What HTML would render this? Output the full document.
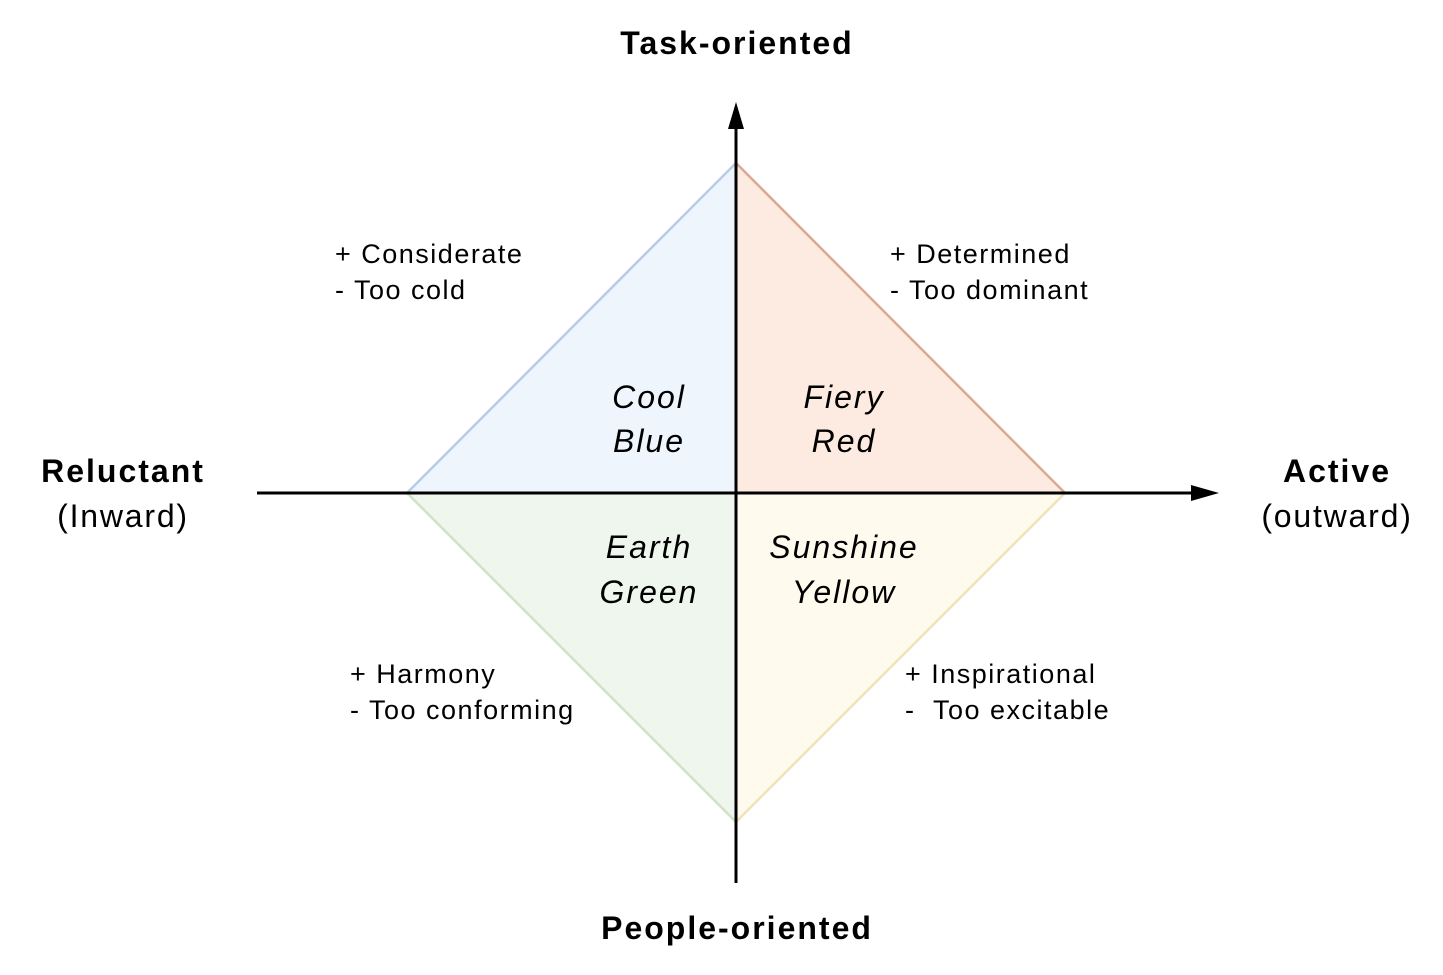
<!DOCTYPE html>
<html><head><meta charset="utf-8"><style>
body{margin:0;background:#fff}
svg{display:block;font-family:"Liberation Sans",Arial,sans-serif}
</style></head><body>
<svg width="1443" height="975" viewBox="0 0 1443 975">
<polygon points="736,163 736,493 407,493" fill="#eff5fd" stroke="#b8cbe8" stroke-width="2.5"/>
<polygon points="736,163 1065,493 736,493" fill="#fdebe1" stroke="#dba993" stroke-width="2.5"/>
<polygon points="407,493 736,493 736,822" fill="#eff6ee" stroke="#cfe3c3" stroke-width="2.5"/>
<polygon points="736,493 1065,493 736,822" fill="#fefaed" stroke="#eee4b8" stroke-width="2.5"/>
<line x1="257" y1="493" x2="1195" y2="493" stroke="#000" stroke-width="3"/>
<polygon points="1191,485 1219,493 1191,501" fill="#000"/>
<line x1="736" y1="883" x2="736" y2="125" stroke="#000" stroke-width="3"/>
<polygon points="728,129 736,102 744,129" fill="#000"/>
<g font-weight="bold" font-size="32" text-anchor="middle" letter-spacing="2">
<text x="737" y="54">Task-oriented</text>
<text x="737" y="939">People-oriented</text>
<text x="123" y="482">Reluctant</text>
<text x="1337" y="482">Active</text>
</g>
<g font-size="32" text-anchor="middle" letter-spacing="1.8">
<text x="123" y="527">(Inward)</text>
<text x="1337" y="527">(outward)</text>
</g>
<g font-size="32" font-style="italic" text-anchor="middle" letter-spacing="2">
<text x="649" y="408">Cool</text>
<text x="649" y="452">Blue</text>
<text x="844" y="408">Fiery</text>
<text x="844" y="452">Red</text>
<text x="649" y="558">Earth</text>
<text x="649" y="603">Green</text>
<text x="844" y="558">Sunshine</text>
<text x="844" y="603">Yellow</text>
</g>
<g font-size="27" letter-spacing="1.5">
<text x="335" y="263">+ Considerate</text>
<text x="335" y="299">- Too cold</text>
<text x="890" y="263">+ Determined</text>
<text x="890" y="299">- Too dominant</text>
<text x="350" y="683">+ Harmony</text>
<text x="350" y="719">- Too conforming</text>
<text x="905" y="683">+ Inspirational</text>
<text x="905" y="719" xml:space="preserve">-  Too excitable</text>
</g>
</svg>
</body></html>
